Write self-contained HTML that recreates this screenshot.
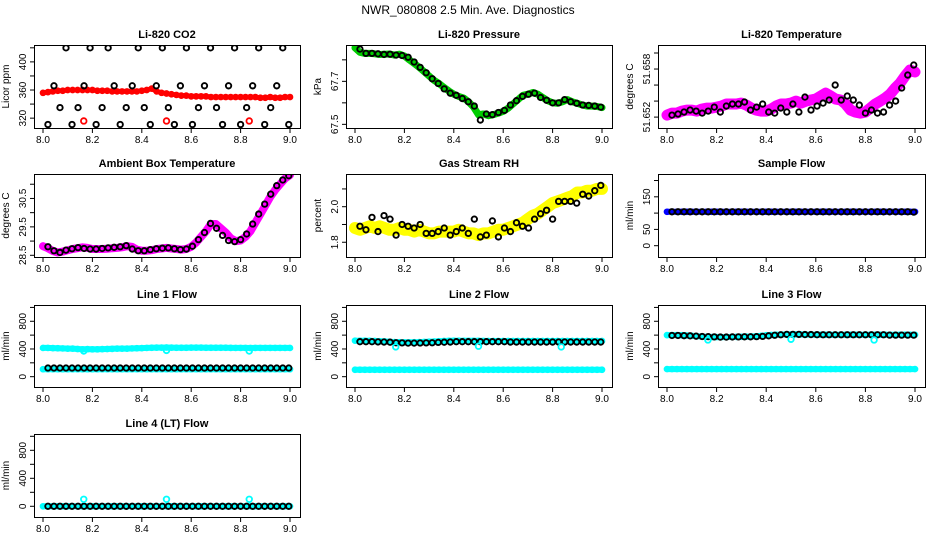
<!DOCTYPE html>
<html><head><meta charset="utf-8">
<style>
html,body{margin:0;padding:0;background:#fff;}
svg{display:block;font-family:"Liberation Sans",Arial,sans-serif;}
</style></head>
<body>
<svg id="chart" width="936" height="540" viewBox="0 0 936 540" xmlns="http://www.w3.org/2000/svg">
<rect width="936" height="540" fill="#fff"/>
<text x="468" y="14" text-anchor="middle" font-size="12">NWR_080808  2.5 Min. Ave. Diagnostics</text>
</svg>
<script>
// ---------- data ----------
const xTickValues = [8.0, 8.2, 8.4, 8.6, 8.8, 9.0];
const xTickLabels = ["8.0", "8.2", "8.4", "8.6", "8.8", "9.0"];
const outlierTimes = [8.165, 8.5, 8.835];

const co2Red = [356,357,358,359,359,360,360,360,360,360,360,359,359,359,358,358,358,358,358,358,359,360,362,358,356,355,354,353,352,352,351,351,351,351,350,350,350,350,350,350,350,350,350,350,349,349,350,349,349,350,350];
const co2Black = [311,366,335,420,311,335,366,420,311,335,420,366,311,335,366,420,335,311,366,420,335,311,366,420,311,335,366,420,335,311,366,420,311,335,366,420,311,335,366,420,311];
const co2RedOutliers = [316, 316, 316];

const presGreen = [67.856,67.835,67.830,67.830,67.828,67.825,67.826,67.827,67.822,67.826,67.818,67.800,67.783,67.765,67.745,67.725,67.705,67.690,67.672,67.655,67.640,67.630,67.622,67.605,67.580,67.545,67.548,67.540,67.545,67.552,67.560,67.575,67.595,67.615,67.635,67.640,67.648,67.640,67.625,67.610,67.600,67.598,67.605,67.615,67.605,67.598,67.590,67.585,67.585,67.583,67.578];
const presBlack = [67.850,67.830,67.830,67.828,67.825,67.826,67.822,67.820,67.812,67.790,67.765,67.740,67.712,67.690,67.665,67.645,67.635,67.620,67.605,67.585,67.520,67.548,67.545,67.555,67.565,67.590,67.610,67.630,67.640,67.645,67.625,67.612,67.600,67.600,67.615,67.605,67.598,67.590,67.588,67.585,67.580];

const tempMagenta = [51.65225,51.6525,51.6525,51.65275,51.65288,51.65288,51.65275,51.653,51.65313,51.65313,51.65325,51.65338,51.65363,51.65363,51.65363,51.65375,51.6535,51.65313,51.65288,51.65275,51.65275,51.653,51.65338,51.65363,51.65363,51.65375,51.654,51.65375,51.654,51.65413,51.65425,51.65463,51.655,51.65463,51.65425,51.65413,51.65363,51.65288,51.65263,51.6525,51.65263,51.65313,51.65363,51.654,51.65438,51.65488,51.65563,51.65625,51.65713,51.65788,51.65763];
const tempBlack = [51.65225,51.65238,51.65263,51.65288,51.65275,51.6525,51.65275,51.65325,51.65263,51.65338,51.65363,51.65363,51.65388,51.65288,51.65325,51.65363,51.65263,51.6525,51.65313,51.65263,51.65363,51.65263,51.6545,51.65288,51.65338,51.65375,51.65413,51.656,51.65413,51.65463,51.65413,51.6535,51.6525,51.65288,51.6525,51.65263,51.6535,51.654,51.65563,51.65725,51.6585];

const ambMagenta = [28.82,28.75,28.65,28.6,28.63,28.68,28.72,28.75,28.78,28.76,28.72,28.72,28.72,28.73,28.75,28.76,28.78,28.82,28.8,28.7,28.66,28.66,28.68,28.72,28.74,28.76,28.74,28.72,28.7,28.72,28.8,28.95,29.15,29.35,29.6,29.6,29.45,29.3,29.1,29.0,29.02,29.15,29.35,29.65,29.95,30.25,30.55,30.8,31.0,31.2,31.32];
const ambBlack = [28.8,28.66,28.6,28.68,28.73,28.77,28.74,28.72,28.72,28.74,28.76,28.78,28.8,28.84,28.72,28.66,28.66,28.7,28.73,28.75,28.76,28.73,28.7,28.72,28.82,29.05,29.3,29.62,29.45,29.2,29.02,28.98,29.05,29.25,29.6,29.95,30.3,30.65,30.95,31.15,31.3];

const rhYellow = [1.88,1.87,1.88,1.89,1.88,1.89,1.88,1.87,1.87,1.88,1.87,1.87,1.86,1.87,1.86,1.85,1.85,1.86,1.86,1.86,1.86,1.87,1.86,1.85,1.85,1.84,1.85,1.85,1.86,1.87,1.87,1.88,1.89,1.9,1.91,1.93,1.95,1.96,1.98,2.0,2.02,2.03,2.04,2.05,2.06,2.08,2.08,2.09,2.09,2.1,2.1];
const rhBlack = [1.89,1.87,1.94,1.86,1.95,1.93,1.84,1.90,1.89,1.88,1.90,1.85,1.85,1.86,1.88,1.84,1.86,1.88,1.85,1.93,1.83,1.84,1.92,1.83,1.88,1.86,1.91,1.89,1.88,1.93,1.96,1.98,1.93,2.03,2.03,2.03,2.02,2.07,2.06,2.09,2.12];

const sampleBlue = [104,104,104,104,104,104,104,104,104,104,104,104,104,104,104,104,104,104,104,104,104,104,104,104,104,104,104,104,104,104,104,104,104,104,104,104,104,104,104,104,104,104,104,104,104,104,104,104,104,104,104];
const sampleBlack = [104,104,104,104,104,104,104,104,104,104,104,104,104,104,104,104,104,104,104,104,104,104,104,104,104,104,104,104,104,104,104,104,104,104,104,104,104,104,104,104,103];

const line1CyanHigh = [415,415,412,410,408,405,405,400,395,398,395,395,398,400,402,405,405,405,408,410,412,415,418,420,420,422,420,418,418,418,420,420,420,418,418,418,418,418,416,415,415,415,414,415,415,415,415,415,415,415,415];
const line1CyanLow = [108,108,108,108,108,108,108,108,108,108,108,108,108,108,108,108,108,108,108,108,108,108,108,108,108,108,108,108,108,108,108,108,108,108,108,108,108,108,108,108,108,108,108,108,108,108,108,108,108,108,108];
const line1Black = [125,125,125,125,125,125,125,125,125,125,125,125,125,125,125,125,125,125,125,125,125,125,125,125,125,125,125,125,125,125,125,125,125,125,125,125,125,125,125,125,125];
const line1Outliers = [370, 380, 370];

const line2CyanHigh = [520,520,520,518,515,512,510,505,500,498,496,496,498,500,502,505,508,512,515,518,520,520,518,518,518,518,516,515,515,515,515,515,515,515,515,515,515,515,515,515,515,515,515,515,515,515,515,515,515,515,515];
const line2CyanLow = [100,100,100,100,100,100,100,100,100,100,100,100,100,100,100,100,100,100,100,100,100,100,100,100,100,100,100,100,100,100,100,100,100,100,100,100,100,100,100,100,100,100,100,100,100,100,100,100,100,100,100];
const line2Black = [505,505,505,502,500,498,490,488,485,485,486,488,490,495,498,500,505,505,505,505,505,505,505,505,505,500,500,500,500,500,500,500,500,500,500,500,500,500,500,500,500];
const line2Outliers = [430, 440, 430];

const line3CyanHigh = [600,600,600,598,595,590,585,580,575,572,572,572,572,574,575,576,578,580,585,590,598,602,605,608,610,610,610,610,608,608,606,606,605,605,605,605,605,605,605,605,605,605,605,605,605,605,605,605,605,605,605];
const line3CyanLow = [110,110,110,110,110,110,110,110,110,110,110,110,110,110,110,110,110,110,110,110,110,110,110,110,110,110,110,110,110,110,110,110,110,110,110,110,110,110,110,110,110,110,110,110,110,110,110,110,110,110,110];
const line3Black = [595,595,592,590,585,580,578,575,572,572,574,575,576,576,578,582,590,598,605,610,610,610,608,608,606,605,605,605,605,605,605,605,605,605,605,605,600,600,600,600,600];
const line3Outliers = [530, 540, 530];

const line4Cyan = [0,0,0,0,0,0,0,0,0,0,0,0,0,0,0,0,0,0,0,0,0,0,0,0,0,0,0,0,0,0,0,0,0,0,0,0,0,0,0,0,0,0,0,0,0,0,0,0,0,0,0];
const line4Black = [0,0,0,0,0,0,0,0,0,0,0,0,0,0,0,0,0,0,0,0,0,0,0,0,0,0,0,0,0,0,0,0,0,0,0,0,0,0,0,0,0];
const line4Outliers = [100, 100, 100];

// ---------- drawing ----------
const NS = "http://www.w3.org/2000/svg";
const svg = document.getElementById("chart");
const colL = [34, 346, 658], colR = [300, 612, 925];
const rowT = [45, 174, 305, 434], rowB = [128, 257, 387, 517];

function mk(tag, attrs, parent) {
  const e = document.createElementNS(NS, tag);
  for (const k in attrs) e.setAttribute(k, attrs[k]);
  (parent || svg).appendChild(e);
  return e;
}

function panel(cfg) {
  const L = colL[cfg.col], R = colR[cfg.col], T = rowT[cfg.row], B = rowB[cfg.row];
  const g = mk("g", {});
  
  
  const xs = t => (L + 9) + (t - 8) / 1 * ((R - 10) - (L + 9));
  const ys = v => B - (v - cfg.ymin) / (cfg.ymax - cfg.ymin) * (B - T);
  const timeOf = (i, n) => 8 + i / (n - 1);

  const clipId = "clip-" + cfg.name;
  const cp = mk("clipPath", { id: clipId }, g);
  mk("rect", { x: L, y: T, width: R - L, height: B - T }, cp);
  const plot = mk("g", { "clip-path": "url(#" + clipId + ")" }, g);

  (cfg.dense || []).forEach(s => {
    const n = s.values.length;
    const pts = s.values.map((v, i) => xs(timeOf(i, n)).toFixed(1) + "," + ys(v).toFixed(1)).join(" ");
    const band = mk("polyline", { points: pts, fill: "none", stroke: s.color, "stroke-width": s.width, "stroke-linejoin": "round", "stroke-linecap": "round" }, plot);
    
    
    s.values.forEach((v, i) => {
      const c = mk("circle", { cx: xs(timeOf(i, n)), cy: ys(v), r: 2.6, fill: "none", stroke: s.color, "stroke-width": 1.5 }, plot);
      
      
    });
  });
  if (cfg.black) {
    const n = cfg.black.length;
    cfg.black.forEach((v, i) => {
      const t = 8.02 + i / (n - 1) * 0.975;
      const c = mk("circle", { cx: xs(t), cy: ys(v), r: 2.7, fill: "none", stroke: "#000", "stroke-width": 1.9 }, plot);
      
      
    });
  }
  if (cfg.outliers) {
    cfg.outliers.forEach((v, i) => {
      const c = mk("circle", { cx: xs(outlierTimes[i]), cy: ys(v), r: 2.8, fill: "none", stroke: cfg.outColor, "stroke-width": 1.8 }, plot);
      
      
    });
  }

  const box = mk("rect", { x: L + 0.5, y: T + 0.5, width: R - L, height: B - T, fill: "none", stroke: "#000", "stroke-width": 1 }, g);
  
  

  const xa = mk("g", {}, g);
  
  
  mk("line", { x1: xs(xTickValues[0]), x2: xs(xTickValues[xTickValues.length - 1]), y1: B + 0.5, y2: B + 0.5, stroke: "#000" }, xa);
  xTickValues.forEach((t, i) => {
    mk("line", { x1: xs(t), x2: xs(t), y1: B, y2: B + 5, stroke: "#000" }, xa);
    const tx = mk("text", { x: xs(t), y: B + 15, "text-anchor": "middle", "font-size": 10 }, xa);
    tx.textContent = xTickLabels[i];
    
    
  });

  const ya = mk("g", {}, g);
  
  
  const yt = cfg.yticks;
  mk("line", { x1: L + 0.5, x2: L + 0.5, y1: ys(yt[0]), y2: ys(yt[yt.length - 1]), stroke: "#000" }, ya);
  yt.forEach(v => mk("line", { x1: L - 4, x2: L, y1: ys(v), y2: ys(v), stroke: "#000" }, ya));
  cfg.ylabelValues.forEach((v, i) => {
    const y = ys(v);
    const tx = mk("text", { x: L - 8, y: y, "text-anchor": "middle", "font-size": 10, transform: "rotate(-90 " + (L - 8) + " " + y + ")" }, ya);
    tx.textContent = cfg.ylabelText[i];
    
    
  });
  const ym = (T + B) / 2;
  const yl = mk("text", { x: L - 25, y: ym, "text-anchor": "middle", "font-size": 10, transform: "rotate(-90 " + (L - 25) + " " + ym + ")" }, g);
  yl.textContent = cfg.ylab;
  
  

  const ti = mk("text", { x: (L + R) / 2, y: T - 7, "text-anchor": "middle", "font-size": 11, "font-weight": "bold" }, g);
  ti.textContent = cfg.title;
  
  
}

const flowTicks = [0, 200, 400, 600, 800, 1000];
panel({ name: "co2-panel", col: 0, row: 0, title: "Li-820 CO2", ylab: "Licor ppm", ymin: 306, ymax: 424,
  yticks: [320, 340, 360, 380, 400, 420], ylabelValues: [320, 360, 400], ylabelText: ["320", "360", "400"],
  dense: [{ name: "co2-red", values: co2Red, color: "#ff0000", width: 5 }], black: co2Black, outliers: co2RedOutliers, outColor: "#ff0000" });
panel({ name: "pressure-panel", col: 1, row: 0, title: "Li-820 Pressure", ylab: "kPa", ymin: 67.483, ymax: 67.869,
  yticks: [67.5, 67.6, 67.7, 67.8], ylabelValues: [67.5, 67.7], ylabelText: ["67.5", "67.7"],
  dense: [{ name: "pressure-green", values: presGreen, color: "#00cc00", width: 7 }], black: presBlack });
panel({ name: "licor-temperature-panel", col: 2, row: 0, title: "Li-820 Temperature", ylab: "degrees C", ymin: 51.65064, ymax: 51.661,
  yticks: [51.652, 51.654, 51.656, 51.658, 51.660], ylabelValues: [51.652, 51.658], ylabelText: ["51.652", "51.658"],
  dense: [{ name: "temperature-magenta", values: tempMagenta, color: "#ff00ff", width: 11 }], black: tempBlack });
panel({ name: "ambient-temperature-panel", col: 0, row: 1, title: "Ambient Box Temperature", ylab: "degrees C", ymin: 28.44, ymax: 31.36,
  yticks: [28.5, 29, 29.5, 30, 30.5, 31], ylabelValues: [28.5, 29.5, 30.5], ylabelText: ["28.5", "29.5", "30.5"],
  dense: [{ name: "ambient-magenta", values: ambMagenta, color: "#ff00ff", width: 8 }], black: ambBlack });
panel({ name: "gas-rh-panel", col: 1, row: 1, title: "Gas Stream RH", ylab: "percent", ymin: 1.717, ymax: 2.184,
  yticks: [1.8, 1.9, 2.0, 2.1], ylabelValues: [1.8, 2.0], ylabelText: ["1.8", "2.0"],
  dense: [{ name: "rh-yellow", values: rhYellow, color: "#ffff00", width: 12 }], black: rhBlack });
panel({ name: "sample-flow-panel", col: 2, row: 1, title: "Sample Flow", ylab: "ml/min", ymin: -34.7, ymax: 220,
  yticks: [0, 50, 100, 150, 200], ylabelValues: [0, 50, 150], ylabelText: ["0", "50", "150"],
  dense: [{ name: "sample-blue", values: sampleBlue, color: "#0000ff", width: 6 }], black: sampleBlack });
panel({ name: "line1-flow-panel", col: 0, row: 2, title: "Line 1 Flow", ylab: "ml/min", ymin: -149, ymax: 1035,
  yticks: flowTicks, ylabelValues: [0, 400, 800], ylabelText: ["0", "400", "800"],
  dense: [{ name: "line1-cyan-high", values: line1CyanHigh, color: "#00ffff", width: 6 }, { name: "line1-cyan-low", values: line1CyanLow, color: "#00ffff", width: 6 }],
  black: line1Black, outliers: line1Outliers, outColor: "#00ffff" });
panel({ name: "line2-flow-panel", col: 1, row: 2, title: "Line 2 Flow", ylab: "ml/min", ymin: -149, ymax: 1035,
  yticks: flowTicks, ylabelValues: [0, 400, 800], ylabelText: ["0", "400", "800"],
  dense: [{ name: "line2-cyan-high", values: line2CyanHigh, color: "#00ffff", width: 6 }, { name: "line2-cyan-low", values: line2CyanLow, color: "#00ffff", width: 6 }],
  black: line2Black, outliers: line2Outliers, outColor: "#00ffff" });
panel({ name: "line3-flow-panel", col: 2, row: 2, title: "Line 3 Flow", ylab: "ml/min", ymin: -149, ymax: 1035,
  yticks: flowTicks, ylabelValues: [0, 400, 800], ylabelText: ["0", "400", "800"],
  dense: [{ name: "line3-cyan-high", values: line3CyanHigh, color: "#00ffff", width: 6 }, { name: "line3-cyan-low", values: line3CyanLow, color: "#00ffff", width: 6 }],
  black: line3Black, outliers: line3Outliers, outColor: "#00ffff" });
panel({ name: "line4-flow-panel", col: 0, row: 3, title: "Line 4 (LT) Flow", ylab: "ml/min", ymin: -153, ymax: 1033,
  yticks: flowTicks, ylabelValues: [0, 400, 800], ylabelText: ["0", "400", "800"],
  dense: [{ name: "line4-cyan", values: line4Cyan, color: "#00ffff", width: 6 }],
  black: line4Black, outliers: line4Outliers, outColor: "#00ffff" });
</script>
</body></html>
